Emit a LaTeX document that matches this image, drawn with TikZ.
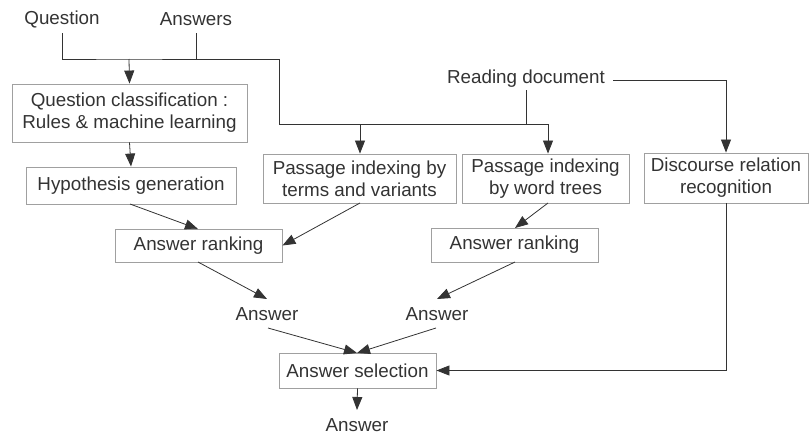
\documentclass[tikz,border=0pt]{standalone}
\usepackage{fontspec}
\setmainfont{Liberation Sans}
\usetikzlibrary{arrows.meta}
\definecolor{txt}{HTML}{333333}
\definecolor{boxc}{HTML}{A0A0A0}
\definecolor{linec}{HTML}{333333}
\begin{document}
\begin{tikzpicture}[x=1pt,y=-1pt,
  every node/.style={font=\fontsize{18.8}{22}\selectfont, text=txt, inner sep=0pt},
  box/.style={draw=boxc, line width=0.9pt, align=center},
  conn/.style={draw=linec, line width=0.8pt},
  arr/.style={conn, -{Triangle[length=13pt,width=10pt]}}]
\useasboundingbox (0,0) rectangle (809,434);
% boxes (corners from reference)
\node[box, minimum width=235, minimum height=58] (qc) at (129.5,113) {Question classification :\\Rules \& machine learning};
\node[box, minimum width=210, minimum height=37] (hg) at (131,185.5) {\raisebox{3pt}{Hypothesis generation}};
\node[box, minimum width=193, minimum height=49] (p1) at (359.5,178.5) {Passage indexing by\\terms and variants};
\node[box, minimum width=167, minimum height=49] (p2) at (545.5,178.5) {Passage indexing\\by word trees};
\node[box, minimum width=164, minimum height=50] (dr) at (726,178) {Discourse relation\\recognition};
\node[box, minimum width=167, minimum height=33] (ar1) at (198.5,245.5) {Answer ranking};
\node[box, minimum width=167, minimum height=34] (ar2) at (514.5,245) {Answer ranking};
\node[box, minimum width=157, minimum height=35] (as) at (357.5,370.5) {Answer selection};
% plain texts
\node (q) at (62,19) {Question};
\node (a) at (196,19) {Answers};
\node (rd) at (526,79) {Reading document};
\node (an1) at (267,314) {Answer};
\node (an2) at (437,314) {Answer};
\node (anf) at (357,425) {Answer};
% junction coordinates
\coordinate (qb) at (62,33);
\coordinate (ab) at (196,33);
\coordinate (rb) at (526,90);
\coordinate (j1) at (129,59);
\coordinate (j2) at (279,124);
\coordinate (j3) at (526,124);
% connectors
\draw[conn] (qb) |- (j1) -| (ab);
\draw[arr] (j1) -- (qc.north);
\draw[conn] (196,59) -| (j2) -- (548,124);
\draw[conn] (rb) -- (j3);
\draw[arr] (360,124) -- (p1.north-|360,0);
\draw[arr] (548,124) -- (p2.north-|548,0);
\draw[arr] (613,80) -| (dr.north);
\draw[arr] (qc.south) -- (hg.north);
\draw[arr] (130,204) -- (198,229);
\draw[arr] (360,203) -- (ar1.east);
\draw[arr] (548,203) -- (515,228);
\draw[arr] (198,262) -- (267,299);
\draw[arr] (515,262) -- (437,299);
\draw[arr] (268,328) -- (357,353);
\draw[arr] (436,328) -- (357,353);
\draw[arr] (dr.south) |- (as.east);
\draw[arr] (as.south) -- (357,410);
\end{tikzpicture}
\end{document}
